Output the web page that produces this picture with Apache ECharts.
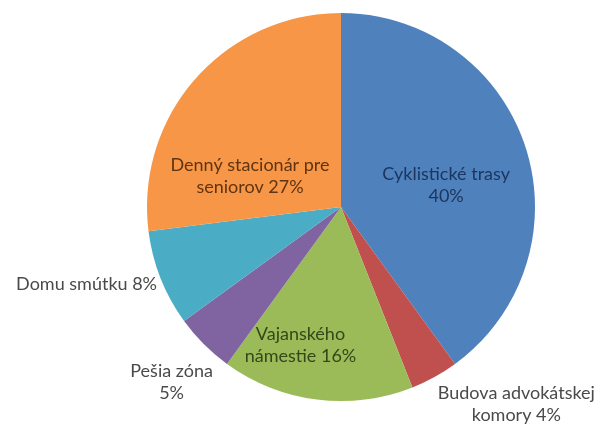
<!DOCTYPE html>
<html>
<head>
<meta charset="utf-8">
<script src="https://cdn.jsdelivr.net/npm/echarts@6/dist/echarts.min.js"></script>
<style>
    html, body { margin: 0; padding: 0; background: #fff; }
    #chart { width: 604px; height: 424px; }
</style>
</head>
<body>
<div id="chart"></div>
<script>
// data, clockwise from the top
let names = ['Cyklistické trasy', 'Budova advokátskej\nkomory', 'Vajanského\nnámestie', 'Pešia zóna', 'Domu smútku', 'Denný stacionár pre\nseniorov'];
let values = [40, 4, 16, 5, 8, 27];
let joins = ['\n', ' ', ' ', '\n', ' ', ' '];
let colors = ['#4f81bd', '#c0504d', '#9bbb59', '#8064a2', '#4bacc6', '#f79646'];
let textColors = ['#1b355e', '#4a4a4a', '#34471a', '#4a4a4a', '#4a4a4a', '#5e3412'];
let inside = [true, false, true, false, false, true];

// nudges to put the labels where Excel had them
let nudge = [[10, 9], [74, 22], [-28, 39], [-23, 34], [7, 4], [-16, 35]];
let aligns = ['center', 'center', 'center', 'center', 'right', 'center'];

let myChart = echarts.init(document.getElementById('chart'));

let pieData = names.map(function (n, i) {
    return {
        name: n,
        value: values[i],
        itemStyle: {color: colors[i]},
        label: {
            position: inside[i] ? 'inside' : 'outside',
            color: textColors[i]
        }
    };
});

let option = {
    animation: false,
    backgroundColor: '#fff',
    series: [
        {
            type: 'pie',
            center: [341, 207],
            radius: 194,
            startAngle: 90,
            clockwise: true,
            avoidLabelOverlap: false,
            data: pieData,
            itemStyle: {borderColor: '#fff', borderWidth: 0},
            label: {
                fontFamily: 'Lato',
                fontSize: 18,
                lineHeight: 22,
                align: 'center',
                formatter: function (p) {
                    return p.name + joins[p.dataIndex] + p.value + '%';
                }
            },
            labelLine: {show: false, length: 6, length2: 0},
            labelLayout: function (p) {
                return {
                    dx: nudge[p.dataIndex][0],
                    dy: nudge[p.dataIndex][1],
                    align: aligns[p.dataIndex]
                };
            },
            emphasis: {disabled: true}
        }
    ]
};
myChart.setOption(option);
</script>
</body>
</html>
